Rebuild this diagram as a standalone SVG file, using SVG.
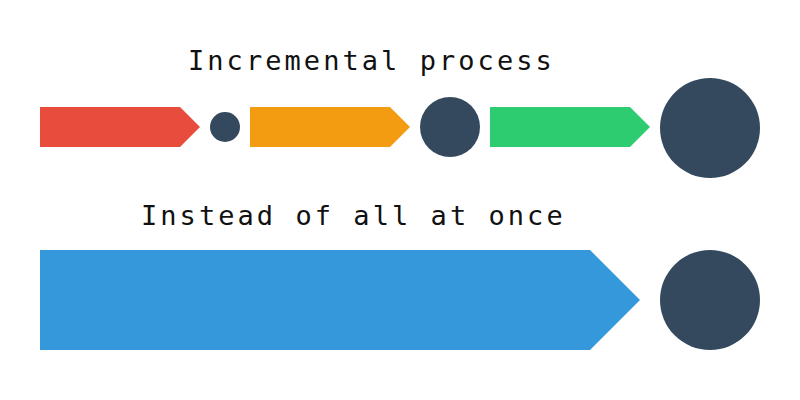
<svg xmlns="http://www.w3.org/2000/svg" width="800" height="400" viewBox="0 0 800 400">
<style>
.t{font-family:"DejaVu Sans Mono","Liberation Mono",monospace;font-size:27px;letter-spacing:3.05px;fill:#111}
.dot{fill:#34495e}
</style>
<rect width="800" height="400" fill="#fff"/>
<g id="title-incremental"><text class="t" x="188" y="70">Incremental process</text></g>
<g id="title-all"><text class="t" x="141" y="225">Instead of all at once</text></g>
<g id="step1"><polygon points="40,107 180,107 200,127 180,147 40,147" fill="#e74c3c"/></g>
<g id="dot1"><circle class="dot" cx="225" cy="127" r="15"/></g>
<g id="step2"><polygon points="250,107 390,107 410,127 390,147 250,147" fill="#f39c12"/></g>
<g id="dot2"><circle class="dot" cx="450" cy="127" r="30"/></g>
<g id="step3"><polygon points="490,107 630,107 650,127 630,147 490,147" fill="#2ecc71"/></g>
<g id="dot3"><circle class="dot" cx="710" cy="128" r="50"/></g>
<g id="big-step"><polygon points="40,250 590,250 640,300 590,350 40,350" fill="#3498db"/></g>
<g id="big-dot"><circle class="dot" cx="710" cy="300" r="50"/></g>
<g id="connectors"></g>
</svg>
